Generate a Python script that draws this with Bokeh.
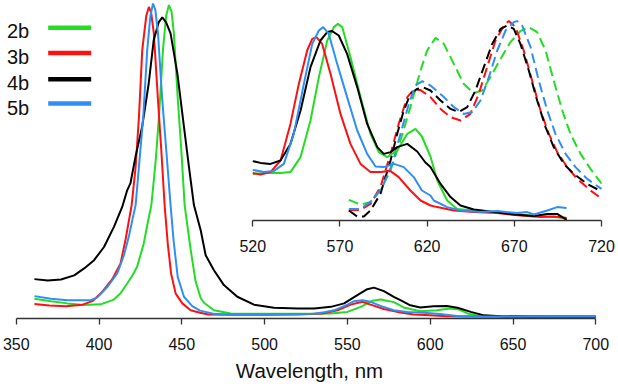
from bokeh.plotting import figure
from bokeh.models import Range1d, LinearAxis, FixedTicker, Label, BoxAnnotation
from bokeh.embed import file_html
from bokeh.resources import INLINE

# ---------------- data ----------------
series_names = ["2b", "3b", "4b", "5b"]
series_colors = ["#22dd22", "#ff1010", "#000000", "#2f8ef5"]

main_ticks = [350, 400, 450, 500, 550, 600, 650, 700]
inset_ticks = [520, 570, 620, 670, 720]

# main spectra (relative intensity)
main_2b_wl = [361, 371, 381, 391, 401, 409, 413, 417, 420, 423, 427, 430, 431.6, 434.2, 436.2, 438.6, 440.5,
              442.2, 443.8, 445.2, 447.6, 449.7, 451.7, 453.5, 455.3, 458.3, 461.4, 463.4, 469.4, 479.5, 500,
              520, 540, 550, 558, 565, 570, 578, 584, 594, 604, 612, 617, 622.5, 630.5, 650, 700]
main_2b_i = [0.063, 0.055, 0.048, 0.043, 0.045, 0.06, 0.08, 0.111, 0.135, 0.164, 0.238, 0.32, 0.36, 0.5, 0.64,
             0.852, 0.96, 0.995, 0.975, 0.905, 0.693, 0.534, 0.36, 0.29, 0.22, 0.118, 0.065, 0.05, 0.026, 0.016,
             0.015, 0.015, 0.016, 0.021, 0.037, 0.056, 0.06, 0.052, 0.035, 0.023, 0.026, 0.032, 0.029, 0.016,
             0.007, 0.005, 0.005]

main_3b_wl = [361, 370, 380, 390, 396, 402, 408, 413, 416, 418, 419.7, 422.1, 424.1, 426.1, 428.5, 430.1, 431.5,
              433.1, 435.6, 437.6, 439.6, 441.5, 443.5, 446.3, 450.3, 455.3, 461, 466, 480, 500, 520, 535, 544,
              552, 559, 564, 572, 582, 590, 600, 610, 620, 650, 700]
main_3b_i = [0.046, 0.041, 0.039, 0.044, 0.055, 0.085, 0.125, 0.175, 0.25, 0.31, 0.36, 0.481, 0.64, 0.852, 0.96,
             0.989, 0.97, 0.905, 0.693, 0.534, 0.36, 0.238, 0.143, 0.079, 0.048, 0.026, 0.018, 0.013, 0.012,
             0.012, 0.013, 0.016, 0.026, 0.044, 0.053, 0.044, 0.03, 0.019, 0.013, 0.01, 0.007, 0.006, 0.006, 0.005]

main_4b_wl = [361, 369, 377, 385, 391, 397, 403, 409, 414, 417, 419, 422, 426, 430, 433, 436, 438.2, 440.5,
              443.2, 447.3, 451.3, 454.3, 457.3, 461.4, 464.4, 469.4, 475.4, 483.5, 493.6, 505.6, 520, 530, 540,
              548, 556, 562, 566, 572, 578, 582, 588, 594, 602, 610, 616.5, 624.5, 632.5, 642.6, 660, 700]
main_4b_i = [0.125, 0.121, 0.124, 0.137, 0.159, 0.185, 0.227, 0.291, 0.354, 0.407, 0.43, 0.513, 0.608, 0.746,
             0.883, 0.94, 0.956, 0.94, 0.905, 0.778, 0.608, 0.481, 0.36, 0.28, 0.201, 0.153, 0.106, 0.069, 0.044,
             0.034, 0.032, 0.032, 0.037, 0.048, 0.074, 0.093, 0.098, 0.087, 0.069, 0.058, 0.042, 0.035, 0.039,
             0.04, 0.034, 0.021, 0.01, 0.007, 0.006, 0.006]

main_5b_wl = [361, 371, 381, 395, 399, 405, 411, 415, 418, 420, 422.1, 424.1, 426.7, 429.1, 431, 432.6, 434,
              435.6, 438.2, 440.6, 443.2, 445, 447.5, 451.3, 456.3, 461, 469, 480, 500, 520, 530, 536, 542, 550,
              554, 559, 564, 570, 578, 586, 596, 606, 616, 630, 660, 700]
main_5b_i = [0.071, 0.063, 0.058, 0.058, 0.067, 0.1, 0.143, 0.2, 0.26, 0.31, 0.36, 0.481, 0.64, 0.852, 0.96, 1.0,
             0.98, 0.905, 0.693, 0.534, 0.36, 0.249, 0.132, 0.069, 0.039, 0.025, 0.015, 0.013, 0.013, 0.014,
             0.015, 0.02, 0.026, 0.044, 0.055, 0.058, 0.053, 0.04, 0.026, 0.021, 0.018, 0.014, 0.008, 0.006,
             0.006, 0.006]

# inset, solid spectra
ins_2b_wl = [520, 528.3, 535.9, 541.6, 547.4, 553.1, 557.9, 562.7, 566.5, 568.8, 571.3, 576, 581.8, 587.5, 592.3,
             597.1, 602.8, 608.6, 613.3, 617, 621.9, 625.8, 631.5, 637.2, 646.8, 664, 679.3, 692.6, 700]
ins_2b_i = [0.233, 0.238, 0.237, 0.242, 0.317, 0.5, 0.717, 0.9, 0.967, 0.983, 0.967, 0.817, 0.617, 0.433, 0.342,
            0.317, 0.35, 0.433, 0.458, 0.42, 0.32, 0.2, 0.1, 0.058, 0.05, 0.038, 0.025, 0.017, 0.013]

ins_3b_wl = [520, 524.4, 530.2, 535.9, 541.6, 546.4, 551.2, 554.1, 556.5, 559.8, 564.6, 570.3, 576, 581.8, 587.5,
             593.2, 599, 603.7, 610.4, 616.2, 621.9, 625.8, 635.3, 646.8, 660.2, 673.5, 685, 692.6, 700]
ins_3b_i = [0.237, 0.23, 0.242, 0.3, 0.483, 0.683, 0.85, 0.908, 0.917, 0.883, 0.733, 0.533, 0.383, 0.283, 0.242,
            0.242, 0.247, 0.217, 0.15, 0.1, 0.075, 0.067, 0.05, 0.042, 0.037, 0.025, 0.017, 0.02, 0.013]

ins_4b_wl = [520, 524.4, 530.2, 535.9, 541.6, 547.4, 553.1, 558.8, 562.7, 565.5, 569.3, 574.1, 579.9, 585.6, 591.4,
             595.1, 599, 602.8, 608.6, 614.3, 619, 621.9, 627.7, 633.4, 639.1, 646.8, 658.2, 669.7, 681.2, 688.9,
             694.6, 700]
ins_4b_i = [0.297, 0.288, 0.283, 0.3, 0.383, 0.55, 0.767, 0.9, 0.942, 0.947, 0.925, 0.833, 0.667, 0.483, 0.367,
            0.333, 0.342, 0.367, 0.383, 0.345, 0.29, 0.267, 0.183, 0.117, 0.075, 0.055, 0.042, 0.03, 0.022, 0.033,
            0.033, 0.003]

ins_5b_wl = [520, 526.3, 532, 537.8, 543.5, 549.3, 554.1, 557.9, 560.4, 563.6, 568.4, 574.1, 579.9, 585.6, 590.4,
             595.1, 600.9, 606.6, 612.3, 617, 621.9, 623.8, 631.5, 639.1, 650.6, 660.2, 671.6, 677.4, 681.2, 688.9,
             694.6, 700]
ins_5b_i = [0.253, 0.242, 0.247, 0.283, 0.433, 0.683, 0.883, 0.95, 0.967, 0.933, 0.783, 0.617, 0.45, 0.333, 0.27,
            0.267, 0.283, 0.267, 0.217, 0.15, 0.125, 0.1, 0.067, 0.05, 0.042, 0.047, 0.037, 0.042, 0.03, 0.05,
            0.067, 0.063]

# inset, dashed spectra
dash_2b_wl = [575.1, 581.8, 587.5, 593.2, 599, 604.7, 610.4, 616.2, 620, 624.8, 629.6, 635.3, 641, 646.8, 651.6,
              656.3, 662.1, 667.8, 673.5, 678.3, 683.1, 687.9, 692.6, 697.5, 702.2, 708, 713.7, 720]
dash_2b_i = [0.103, 0.08, 0.092, 0.15, 0.25, 0.4, 0.567, 0.75, 0.85, 0.913, 0.883, 0.783, 0.683, 0.637, 0.65,
             0.717, 0.808, 0.892, 0.947, 0.967, 0.942, 0.85, 0.7, 0.55, 0.433, 0.333, 0.258, 0.185]

dash_3b_wl = [575.1, 581.8, 587.5, 593.2, 599, 603.7, 608.6, 612.3, 616.2, 621.9, 627.7, 633.4, 639.1, 644.8,
              649.6, 654.4, 659.2, 664, 666.8, 670.7, 675.4, 680.2, 685, 689.8, 694.6, 700.3, 706.1, 713.7, 720]
dash_3b_i = [0.053, 0.053, 0.083, 0.167, 0.333, 0.483, 0.617, 0.653, 0.652, 0.617, 0.558, 0.517, 0.5, 0.533,
             0.633, 0.767, 0.9, 0.975, 0.997, 0.967, 0.85, 0.7, 0.55, 0.433, 0.342, 0.267, 0.208, 0.15, 0.11]

dash_4b_wl = [575.1, 579.9, 583.7, 587.5, 593.2, 599, 602.8, 606.6, 610.4, 614.3, 618, 621.9, 627.7, 633.4,
              638.1, 643, 647.7, 652.5, 657.3, 662.1, 665.9, 669.7, 673.5, 678.3, 683.1, 687.9, 692.6, 698.4,
              704.1, 711.8, 720]
dash_4b_i = [0.05, 0.02, 0.02, 0.05, 0.133, 0.3, 0.433, 0.55, 0.633, 0.658, 0.665, 0.65, 0.6, 0.558, 0.542,
             0.567, 0.65, 0.767, 0.883, 0.958, 0.975, 0.958, 0.883, 0.75, 0.6, 0.467, 0.367, 0.283, 0.233,
             0.183, 0.145]

dash_5b_wl = [575.1, 581.8, 588.5, 594.2, 600, 604.7, 609.5, 613.3, 617.2, 621.9, 629.6, 635.3, 641, 645.8,
              650.6, 655.4, 660.2, 665, 669.7, 671.6, 674.5, 679.3, 684, 688.9, 693.6, 699.4, 705.1, 711.8, 720]
dash_5b_i = [0.058, 0.058, 0.1, 0.167, 0.283, 0.433, 0.583, 0.675, 0.697, 0.675, 0.617, 0.567, 0.533, 0.542,
             0.6, 0.717, 0.85, 0.95, 0.992, 0.997, 0.975, 0.867, 0.7, 0.55, 0.433, 0.333, 0.267, 0.208, 0.158]

main_data = [(main_2b_wl, main_2b_i), (main_3b_wl, main_3b_i), (main_4b_wl, main_4b_i), (main_5b_wl, main_5b_i)]
inset_solid = [(ins_2b_wl, ins_2b_i), (ins_3b_wl, ins_3b_i), (ins_4b_wl, ins_4b_i), (ins_5b_wl, ins_5b_i)]
inset_dashed = [(dash_2b_wl, dash_2b_i), (dash_3b_wl, dash_3b_i), (dash_4b_wl, dash_4b_i), (dash_5b_wl, dash_5b_i)]

# ---------------- figure ----------------
FONT = "Liberation Sans"
FRAME_H = 318

p = figure(width=618, height=386, output_backend="svg", toolbar_location=None,
           x_range=Range1d(340.5, 713.7), y_range=Range1d(0, 1.0095),
           x_axis_location=None, y_axis_location=None,
           min_border_left=0, min_border_right=0, min_border_top=0, min_border_bottom=386 - FRAME_H)
p.extra_x_ranges = {"inset": Range1d(375.3, 729.75)}
p.extra_y_ranges = {"inset": Range1d(-0.49, 1.1)}
p.outline_line_color = None
p.background_fill_color = "white"
p.border_fill_color = "white"
p.grid.visible = False


def style_axis(ax):
    ax.axis_line_color = "#333333"
    ax.axis_line_width = 1.3
    ax.major_tick_line_color = "#333333"
    ax.major_tick_line_width = 1.3
    ax.major_tick_in = 0
    ax.major_tick_out = 6
    ax.minor_tick_in = 0
    ax.minor_tick_out = 0
    ax.major_label_standoff = 13
    ax.major_label_text_font = FONT
    ax.major_label_text_font_size = "16px"
    ax.major_label_text_color = "#111111"


main_ax = LinearAxis(ticker=FixedTicker(ticks=main_ticks), bounds=(main_ticks[0], main_ticks[-1]),
                     axis_label="Wavelength, nm")
style_axis(main_ax)
main_ax.axis_label_text_font = FONT
main_ax.axis_label_text_font_size = "20.5px"
main_ax.axis_label_text_font_style = "normal"
main_ax.axis_label_text_color = "#111111"
main_ax.axis_label_standoff = 6
p.add_layout(main_ax, "below")

inset_ax = LinearAxis(x_range_name="inset", y_range_name="inset", fixed_location=0,
                      ticker=FixedTicker(ticks=inset_ticks), bounds=(inset_ticks[0], inset_ticks[-1]))
style_axis(inset_ax)
p.add_layout(inset_ax, "below")

# main curves
for (wl, iv), color in zip(main_data, series_colors):
    p.line(wl, iv, line_color=color, line_width=2)

# inset curves
for (wl, iv), color in zip(inset_dashed, series_colors):
    p.line(wl, iv, line_color=color, line_width=2, line_dash="10 5",
           x_range_name="inset", y_range_name="inset")
for (wl, iv), color in zip(inset_solid, series_colors):
    p.line(wl, iv, line_color=color, line_width=2,
           x_range_name="inset", y_range_name="inset")

# legend (label left of swatch); screen units measured from the frame bottom
text_centers = [30.5, 56.3, 82.2, 107.0]
swatch_centers = [27.2, 52.5, 78.7, 103.0]
for name, color, tc, sc in zip(series_names, series_colors, text_centers, swatch_centers):
    p.add_layout(Label(x=6.5, y=FRAME_H - tc, x_units="screen", y_units="screen", text=name,
                       text_font=FONT, text_font_size="20px", text_color="#111111",
                       text_baseline="middle", text_align="left"))
    p.add_layout(BoxAnnotation(left=47.7, right=90.7, top=FRAME_H - (sc - 2.2), bottom=FRAME_H - (sc + 2.2),
                               left_units="screen", right_units="screen", top_units="screen",
                               bottom_units="screen", fill_color=color, fill_alpha=1.0, line_color=None))

open("out.html", "w").write(file_html(p, INLINE))
